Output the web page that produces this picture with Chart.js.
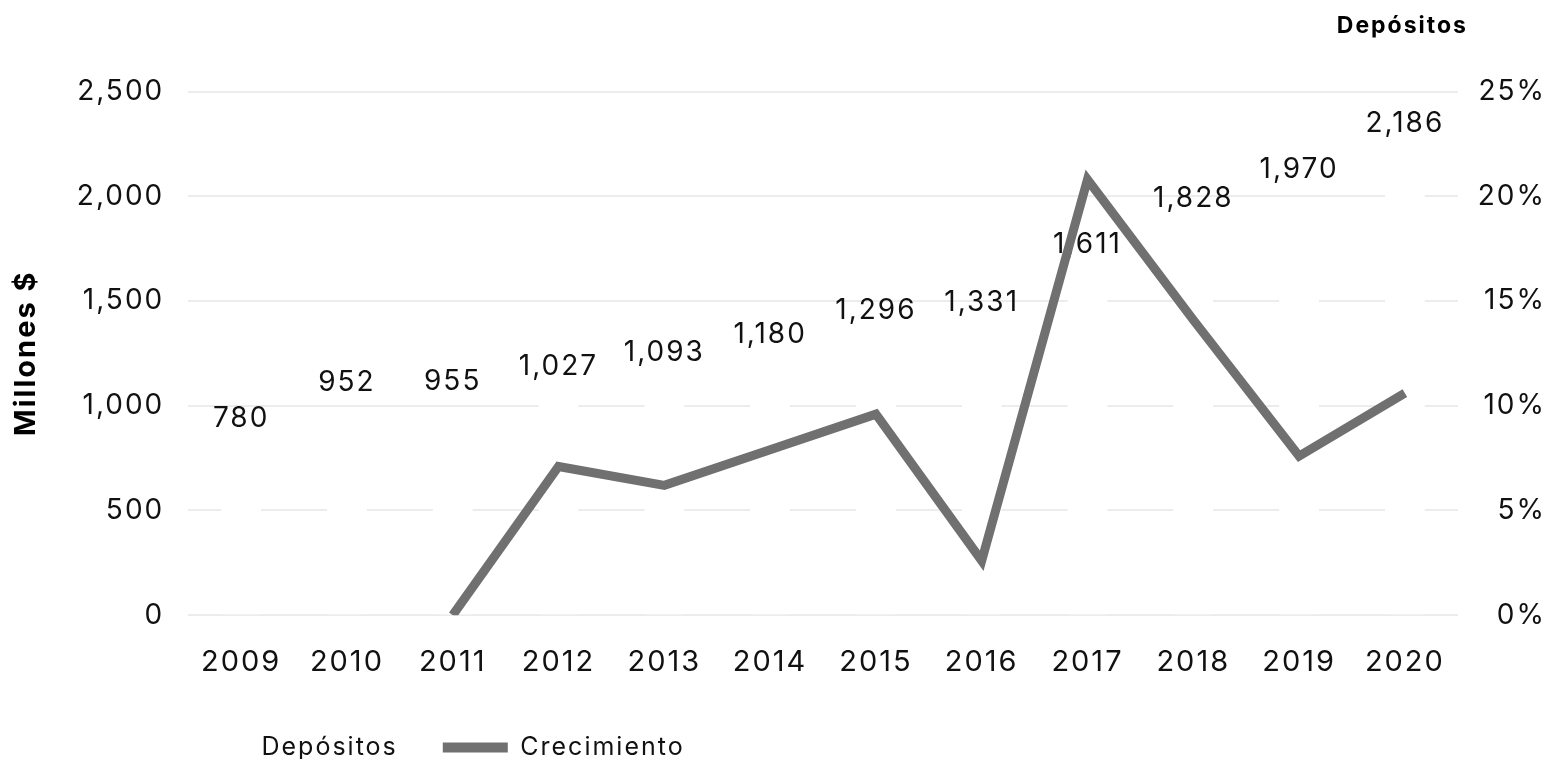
<!DOCTYPE html>
<html>
<head>
<meta charset="utf-8">
<script src="https://cdn.jsdelivr.net/npm/chart.js@4"></script>
<style>
  html, body { margin: 0; padding: 0; background: #fff; overflow: hidden; }
  canvas { display: block; }
</style>
</head>
<body>
<canvas id="chart" width="1560" height="771"></canvas>
<script>
// datos
const years = ['2009', '2010', '2011', '2012', '2013', '2014', '2015', '2016', '2017', '2018', '2019', '2020'];
const depositos = [780, 952, 955, 1027, 1093, 1180, 1296, 1331, 1611, 1828, 1970, 2186];
const crecimiento = [null, null, 0, 7.1, 6.2, 7.9, 9.6, 2.6, 20.8, 14.1, 7.6, 10.6];
const leftTicks = [0, 500, 1000, 1500, 2000, 2500];
const rightTicks = [0, 5, 10, 15, 20, 25];

const FONT = "Inter, 'Open Sans', sans-serif";
const fmt = v => Number(v).toLocaleString('en-US');

// espaciado de letras (la fuente original es más ancha)
const spacing = {
  id: 'spacing',
  beforeUpdate(chart) { chart.ctx.letterSpacing = '2px'; },
  beforeDraw(chart) { chart.ctx.letterSpacing = '2px'; }
};

// mover leyenda y título como en el original
const placeBoxes = {
  id: 'placeBoxes',
  afterLayout(chart) {
    chart.legend.left = 139;
    chart.legend.top -= 20;
    chart.titleBlock.right = chart.width - 92;
  }
};

// etiquetas de valores encima de las barras (antes de dibujar la línea)
const valueLabels = {
  id: 'valueLabels',
  afterDatasetDraw(chart, args) {
    if (args.index !== 0) return;
    const ctx = chart.ctx;
    ctx.save();
    ctx.font = '400 28px ' + FONT;
    ctx.fillStyle = '#111';
    ctx.textAlign = 'center';
    ctx.textBaseline = 'alphabetic';
    args.meta.data.forEach((bar, i) => {
      ctx.fillText(fmt(depositos[i]), bar.x, bar.y - 25);
    });
    ctx.restore();
  }
};

new Chart(document.getElementById('chart'), {
  data: {
    labels: years,
    datasets: [
      {
        type: 'bar',
        label: 'Depósitos',
        data: depositos,
        yAxisID: 'y',
        backgroundColor: '#ffffff',
        borderWidth: 0,
        categoryPercentage: 0.8,
        barPercentage: 0.47,
        order: 1
      },
      {
        type: 'line',
        label: 'Crecimiento',
        data: crecimiento,
        yAxisID: 'y1',
        borderColor: '#707070',
        backgroundColor: '#707070',
        borderWidth: 9,
        borderJoinStyle: 'miter',
        pointRadius: 0,
        tension: 0,
        order: 0
      }
    ]
  },
  options: {
    responsive: false,
    animation: false,
    layout: { padding: { left: 0, right: 14, top: 0, bottom: 12 } },
    plugins: {
      title: {
        display: true,
        text: 'Depósitos',
        align: 'end',
        color: '#000',
        font: { family: FONT, size: 23, weight: '700' },
        padding: { top: 12, bottom: 52 }
      },
      legend: {
        position: 'bottom',
        align: 'start',
        maxHeight: 49,
        labels: {
          color: '#111',
          font: { family: FONT, size: 25 },
          boxWidth: 65,
          boxHeight: 10,
          padding: 45,
          sort: (a, b) => a.datasetIndex - b.datasetIndex,
          generateLabels: chart => Chart.defaults.plugins.legend.labels.generateLabels(chart)
            .map(l => ({ ...l, lineWidth: 0 }))
        }
      },
      tooltip: { enabled: false }
    },
    scales: {
      x: {
        grid: { display: false, drawTicks: false },
        border: { display: false },
        ticks: { color: '#111', font: { family: FONT, size: 29 }, padding: 30, maxRotation: 0, autoSkip: false }
      },
      y: {
        position: 'left',
        min: 0,
        max: 2500,
        afterBuildTicks: axis => { axis.ticks = leftTicks.map(v => ({ value: v })); },
        grid: { color: '#ececec', lineWidth: 2, drawTicks: false },
        border: { display: false },
        ticks: { color: '#111', font: { family: FONT, size: 28 }, padding: 24, callback: v => fmt(v) },
        title: {
          display: true,
          text: 'Millones $',
          color: '#000',
          font: { family: FONT, size: 29, weight: '700' },
          padding: { top: 9, bottom: 9 }
        }
      },
      y1: {
        position: 'right',
        min: 0,
        max: 25,
        afterBuildTicks: axis => { axis.ticks = rightTicks.map(v => ({ value: v })); },
        grid: { display: false, drawTicks: false },
        border: { display: false },
        ticks: { color: '#111', font: { family: FONT, size: 28 }, padding: 10, crossAlign: 'far', callback: v => v + '%' }
      }
    }
  },
  plugins: [spacing, placeBoxes, valueLabels]
});
</script>
</body>
</html>
